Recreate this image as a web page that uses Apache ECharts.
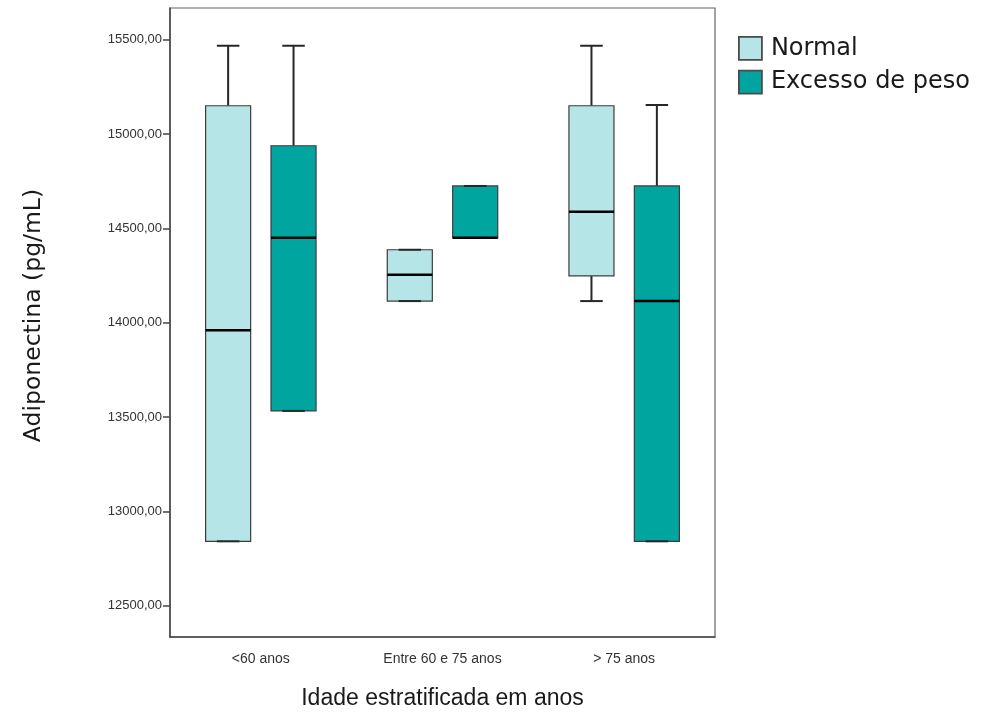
<!DOCTYPE html>
<html>
<head>
<meta charset="utf-8">
<title>Adiponectina por idade</title>
<script src="https://cdn.jsdelivr.net/npm/echarts@6/dist/echarts.min.js"></script>
<style>
  html, body { margin: 0; padding: 0; background: #fff; }
  #chart { width: 993px; height: 715px; }
</style>
</head>
<body>
<div id="chart"></div>
<script>
// Age groups on the x axis
const categories = ['<60 anos', 'Entre 60 e 75 anos', '> 75 anos'];

// Box statistics per age group: [min, Q1, median, Q3, max]
const normalStats = [
  [12842, 12842, 13960, 15150, 15468],
  [14115, 14115, 14254, 14387, 14387],
  [14115, 14249, 14588, 15150, 15468]
];
const excessoStats = [
  [13533, 13533, 14450, 14938, 15468],
  [14450, 14450, 14450, 14725, 14725],
  [12842, 12842, 14115, 14725, 15154]
];

// Y axis tick values
const yTicks = [12500, 13000, 13500, 14000, 14500, 15000, 15500];

const seriesNames = ['Normal', 'Excesso de peso'];
const fillNormal = '#b5e5e7';
const fillExcesso = '#00a5a0';

function toRows(stats) {
  return stats.map((s, i) => [i].concat(s));
}

// Draws one box with whiskers, shifted sideways within the category band
function makeRender(shift, fill) {
  return function (params, api) {
    const ci = api.value(0);
    const band = api.size([1, 0])[0];
    const cx = api.coord([ci, 0])[0] + shift * band;
    const half = band * 0.124;
    const capHalf = half * 0.5;
    const y = (k) => api.coord([ci, api.value(k)])[1];
    const yMin = y(1), yQ1 = y(2), yMed = y(3), yQ3 = y(4), yMax = y(5);
    const whisker = { stroke: '#262626', lineWidth: 2 };
    return {
      type: 'group',
      children: [
        { type: 'line', shape: { x1: cx, y1: yMax, x2: cx, y2: yQ3 }, style: whisker },
        { type: 'line', shape: { x1: cx, y1: yQ1, x2: cx, y2: yMin }, style: whisker },
        { type: 'rect', shape: { x: cx - half, y: yQ3, width: 2 * half, height: Math.max(yQ1 - yQ3, 0) },
          style: { fill: fill, stroke: '#3c3c3c', lineWidth: 1.2 } },
        { type: 'line', shape: { x1: cx - capHalf, y1: yMax, x2: cx + capHalf, y2: yMax }, style: whisker },
        { type: 'line', shape: { x1: cx - capHalf, y1: yMin, x2: cx + capHalf, y2: yMin }, style: whisker },
        { type: 'line', shape: { x1: cx - half, y1: yMed, x2: cx + half, y2: yMed },
          style: { stroke: '#000', lineWidth: 2.5 } }
      ]
    };
  };
}

const chart = echarts.init(document.getElementById('chart'), null, { renderer: 'canvas' });

const font = '"Liberation Sans", Arial, sans-serif';
const wideFont = '"DejaVu Sans", "Liberation Sans", sans-serif';

chart.setOption({
  animation: false,
  backgroundColor: '#ffffff',
  textStyle: { fontFamily: font },
  grid: {
    left: 170, right: 278, top: 8, bottom: 77,
    show: true, borderColor: '#666', borderWidth: 1.2
  },
  legend: {
    orient: 'vertical',
    left: 733, top: 31,
    itemWidth: 23, itemHeight: 23, itemGap: 9,
    icon: 'rect',
    textStyle: { fontSize: 24, lineHeight: 24, color: '#1a1a1a', fontFamily: wideFont, padding: [0, 0, 0, 4] },
    data: [
      { name: seriesNames[0], itemStyle: { color: fillNormal, borderColor: '#4a4a4a', borderWidth: 1.8 } },
      { name: seriesNames[1], itemStyle: { color: fillExcesso, borderColor: '#4a4a4a', borderWidth: 1.8 } }
    ]
  },
  xAxis: {
    type: 'category',
    data: categories,
    name: 'Idade estratificada em anos',
    nameLocation: 'middle',
    nameGap: 50,
    nameTextStyle: { fontSize: 23, color: '#1a1a1a', fontFamily: font },
    axisLine: { lineStyle: { color: '#444', width: 1.5 } },
    axisTick: { alignWithLabel: true, length: 8, lineStyle: { color: '#444', width: 1.5 } },
    axisLabel: { fontSize: 14, color: '#333', margin: 15, fontFamily: font },
    splitLine: { show: false }
  },
  yAxis: {
    type: 'value',
    min: 12335,
    max: 15668,
    name: 'Adiponectina (pg/mL)',
    nameLocation: 'middle',
    nameGap: 124,
    nameTextStyle: { fontSize: 23.5, color: '#1a1a1a', fontFamily: wideFont, padding: [0, 0, 0, 14] },
    axisLine: { show: true, lineStyle: { color: '#444', width: 1.5 } },
    axisTick: { show: true, length: 7, customValues: yTicks, lineStyle: { color: '#444', width: 1.5 } },
    axisLabel: {
      fontSize: 13, color: '#333', margin: 8, fontFamily: font,
      customValues: yTicks,
      formatter: (v) => v.toFixed(2).replace('.', ',')
    },
    splitLine: { show: false }
  },
  series: [
    {
      name: seriesNames[0],
      type: 'custom',
      itemStyle: { color: fillNormal, borderColor: '#4a4a4a' },
      encode: { x: 0, y: [1, 2, 3, 4, 5] },
      renderItem: makeRender(-0.18, fillNormal),
      data: toRows(normalStats)
    },
    {
      name: seriesNames[1],
      type: 'custom',
      itemStyle: { color: fillExcesso, borderColor: '#4a4a4a' },
      encode: { x: 0, y: [1, 2, 3, 4, 5] },
      renderItem: makeRender(0.18, fillExcesso),
      data: toRows(excessoStats)
    }
  ]
});
</script>
</body>
</html>
